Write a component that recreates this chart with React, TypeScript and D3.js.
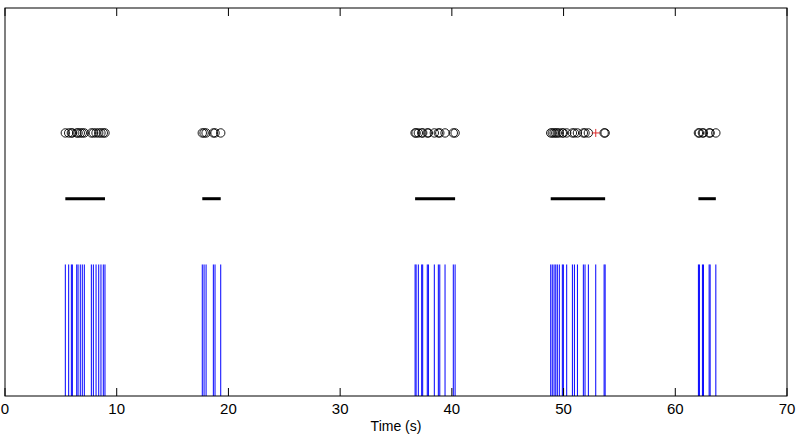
import * as d3 from 'd3'

const W = 797
const H = 438
const M = { top: 8, right: 10, bottom: 42, left: 5 }

// spike times (s), one array per burst
const BURST_1 = [5.40, 5.70, 5.94, 6.03, 6.42, 6.54, 6.74, 6.92, 7.10, 7.73, 7.91, 8.15, 8.39, 8.59, 8.80, 8.95]
const BURST_2 = [17.66, 17.82, 18.0, 18.65, 18.8, 19.31]
const BURST_3 = [36.71, 36.8, 37.0, 37.3, 37.39, 37.8, 37.9, 38.43, 38.79, 38.92, 39.39, 40.13, 40.29]
const BURST_4 = [48.85, 48.99, 49.15, 49.3, 49.44, 49.62, 49.89, 49.98, 50.28, 50.79, 50.97, 51.24, 51.77, 51.92, 52.22, 52.88, 53.63, 53.72]
const BURST_5 = [62.07, 62.16, 62.43, 62.52, 63.03, 63.12, 63.63]
const BURSTS = [BURST_1, BURST_2, BURST_3, BURST_4, BURST_5]

// flagged event (red cross)
const FLAGGED = [52.88]

const X_TICKS = [0, 10, 20, 30, 40, 50, 60, 70]

const SPIKE_LEVEL = 1
const BAR_LEVEL = 1.5
const EVENT_LEVEL = 2
const Y_MAX = 2.95

export default function App() {
  const innerW = W - M.left - M.right
  const innerH = H - M.top - M.bottom

  const x = d3.scaleLinear().domain([0, 70]).range([M.left, M.left + innerW])
  const y = d3.scaleLinear().domain([0, Y_MAX]).range([M.top + innerH, M.top])

  const spikes = BURSTS.flat()
  const events = spikes.filter(t => !FLAGGED.includes(t))

  return (
    <svg width={W} height={H} style={{ position: 'absolute', left: 0, top: 0, background: '#fff' }}
      fontFamily="'Liberation Sans', Arial, sans-serif">
      <rect x={M.left} y={M.top} width={innerW} height={innerH} fill="#fff" />

      {/* spike raster */}
      {spikes.map((t, i) => (
        <line key={`s${i}`} x1={x(t)} x2={x(t)} y1={y(0)} y2={y(SPIKE_LEVEL)}
          stroke="#0000ff" strokeWidth={1} />
      ))}

      {/* burst extent bars */}
      {BURSTS.map((b, i) => (
        <line key={`b${i}`} x1={x(d3.min(b)!)} x2={x(d3.max(b)!)}
          y1={y(BAR_LEVEL)} y2={y(BAR_LEVEL)} stroke="#000" strokeWidth={3} />
      ))}

      {/* detected events */}
      {events.map((t, i) => (
        <circle key={`c${i}`} cx={x(t)} cy={y(EVENT_LEVEL)} r={4.2}
          fill="none" stroke="#000" strokeWidth={0.9} />
      ))}
      {FLAGGED.map((t, i) => (
        <g key={`f${i}`} stroke="#e03030" strokeWidth={1}>
          <line x1={x(t) - 4} x2={x(t) + 4} y1={y(EVENT_LEVEL)} y2={y(EVENT_LEVEL)} />
          <line x1={x(t)} x2={x(t)} y1={y(EVENT_LEVEL) - 4} y2={y(EVENT_LEVEL) + 4} />
        </g>
      ))}

      {/* axes box */}
      <rect x={M.left} y={M.top} width={innerW} height={innerH} fill="none" stroke="#000" strokeWidth={1} />
      {X_TICKS.map(t => (
        <g key={`t${t}`}>
          <line x1={x(t)} x2={x(t)} y1={y(0)} y2={y(0) - 8} stroke="#000" />
          <line x1={x(t)} x2={x(t)} y1={y(Y_MAX)} y2={y(Y_MAX) + 8} stroke="#000" />
          <text x={x(t)} y={y(0) + 18} textAnchor="middle" fontSize={15} fill="#000">{t}</text>
        </g>
      ))}
      <text x={x(35)} y={y(0) + 35} textAnchor="middle" fontSize={14} fill="#000">Time (s)</text>
    </svg>
  )
}
